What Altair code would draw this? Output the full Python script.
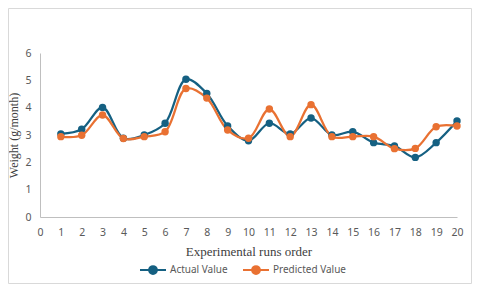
import altair as alt
import pandas as pd

runs = list(range(1, 21))
actual = [3.04, 3.21, 4.01, 2.88, 3.0, 3.43, 5.04, 4.52, 3.33, 2.79,
          3.43, 3.04, 3.62, 3.0, 3.12, 2.72, 2.6, 2.18, 2.72, 3.51]
predicted = [2.94, 2.99, 3.73, 2.87, 2.94, 3.12, 4.7, 4.35, 3.18, 2.88,
             3.95, 2.94, 4.11, 2.94, 2.94, 2.94, 2.5, 2.51, 3.3, 3.33]
series = ["Actual Value", "Predicted Value"]
colors = ["#156082", "#E97132"]

rows = []
for i, r in enumerate(runs):
    rows.append({"run": r, "value": actual[i], "series": series[0], "order": 0})
    rows.append({"run": r, "value": predicted[i], "series": series[1], "order": 1})
df = pd.DataFrame(rows)

W, H = 417, 164
PL, PT, PR, PB = 32, 45, 15, 67

sym = "M-1,0H1M0.3,0A0.3,0.3,0,1,1,-0.3,0A0.3,0.3,0,1,1,0.3,0Z"

x = alt.X("run:Q", scale=alt.Scale(domain=[0, 20], nice=False),
          axis=alt.Axis(values=list(range(0, 21)), format="d", grid=False,
                        ticks=False, domainColor="#BFBFBF", labelColor="#595959",
                        labelFont="Noto Sans", labelFontSize=10.5, labelPadding=10,
                        labelOverlap=False, labelFlush=False,
                        title="Experimental runs order", titleFont="Liberation Serif",
                        titleFontSize=13, titleFontWeight="normal", titleColor="#404040",
                        titlePadding=8))
y = alt.Y("value:Q", scale=alt.Scale(domain=[0, 6], nice=False),
          axis=alt.Axis(values=[0, 1, 2, 3, 4, 5, 6], grid=False, ticks=False,
                        domainColor="#BFBFBF", labelColor="#595959",
                        labelFont="Noto Sans", labelFontSize=10.5, labelPadding=9,
                        labelOverlap=False,
                        title="Weight (g/month)", titleFont="Liberation Serif",
                        titleFontSize=12, titleFontWeight="normal", titleColor="#404040",
                        titlePadding=4))
color = alt.Color("series:N", scale=alt.Scale(domain=series, range=colors),
                  legend=alt.Legend(title=None, orient="none", direction="horizontal",
                                    legendX=99, legendY=203, symbolType=sym,
                                    symbolSize=676, symbolStrokeWidth=2,
                                    labelFont="Noto Sans", labelFontSize=10,
                                    labelColor="#595959", labelOffset=3,
                                    columnPadding=11))

base = alt.Chart(df)
lines = base.mark_line(interpolate="catmull-rom", strokeWidth=2.25,
                       point=alt.OverlayMarkDef(filled=True, size=55)).encode(
    x=x, y=y, color=color, detail="series:N", order="order:Q")

border = alt.Chart(pd.DataFrame({"k": [0]})).mark_rect(
    fill=None, stroke="#D9D9D9", strokeWidth=1).encode(
    x=alt.value(-PL + 0.5), x2=alt.value(W + PR - 0.5),
    y=alt.value(-PT + 0.5), y2=alt.value(H + PB - 0.5))

chart = alt.layer(border, lines).properties(
    width=W, height=H, padding={"left": PL, "top": PT, "right": PR, "bottom": PB},
    autosize=alt.AutoSizeParams(type="none"), background="white"
).configure_view(stroke=None)

chart.save("out.html", embed_options={"renderer": "svg", "actions": False})
